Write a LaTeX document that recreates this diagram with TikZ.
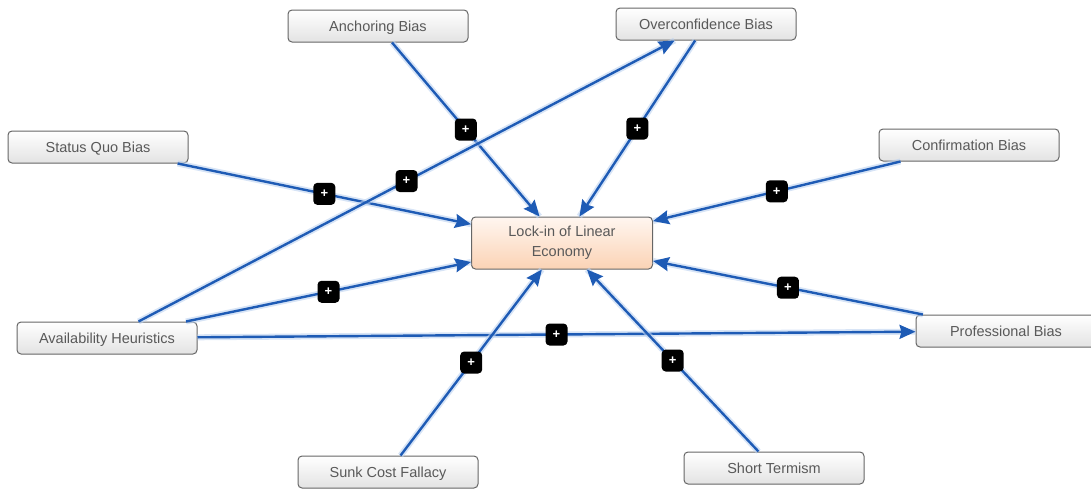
\documentclass[tikz,border=0pt]{standalone}
\usepackage{fontspec}
\setmainfont{Liberation Sans}
\usetikzlibrary{arrows.meta}
\definecolor{edgeblue}{HTML}{1E5BB5}
\definecolor{glowblue}{HTML}{BCD2F0}
\definecolor{boxline}{HTML}{666666}
\definecolor{boxtext}{HTML}{595959}
\definecolor{peachtop}{HTML}{FFF6F0}
\definecolor{peachbot}{HTML}{FBD3B5}
\tikzset{
  boxbase/.style={draw=boxline, line width=1pt, rounded corners=4pt,
    text=boxtext, inner sep=0pt,
    font=\fontsize{14.5}{20}\selectfont},
  factor/.style={boxbase, top color=white, bottom color=black!11,
    minimum width=180pt, minimum height=32pt,
    text height=11.5pt, text depth=0pt},
  core/.style={boxbase, top color=peachtop, bottom color=peachbot,
    minimum width=181pt, minimum height=52pt, align=center},
  link/.style={draw=edgeblue, line width=2.4pt,
    -{Stealth[length=16pt,width=14pt,inset=2pt]},
    preaction={draw=glowblue, line width=6pt, -, opacity=0.6}},
  plus/.style={fill=black, rounded corners=4pt, minimum size=22pt,
    inner sep=0pt, text=white, font=\bfseries\fontsize{13}{13}\selectfont}
}
\begin{document}
\begin{tikzpicture}[x=1pt, y=-1pt]
\useasboundingbox (0,0) rectangle (1091,488);

% causes and the central effect
\node[core]   (lock)  at (562,243) {Lock-in of Linear\\Economy};
\node[factor] (anch)  at (378,26)  {Anchoring Bias};
\node[factor] (over)  at (706,24)  {Overconfidence Bias};
\node[factor] (squo)  at (98,147)  {Status Quo Bias};
\node[factor] (conf)  at (969,145) {Confirmation Bias};
\node[factor] (avail) at (107,338) {Availability Heuristics};
\node[factor] (prof)  at (1006,331) {Professional Bias};
\node[factor] (sunk)  at (388,472) {Sunk Cost Fallacy};
\node[factor] (short) at (774,468) {Short Termism};

% reinforcing links
\draw[link] (anch)  -- node[plus] (p1) {+} (lock);
\draw[link] (over)  -- node[plus] (p2) {+} (lock);
\draw[link] (squo)  -- node[plus] (p3) {+} (lock);
\draw[link] (conf)  -- node[plus] (p4) {+} (lock);
\draw[link] (avail) -- node[plus] (p5) {+} (over);
\draw[link] (avail) -- node[plus] (p6) {+} (lock);
\draw[link] (avail) -- node[plus] (p7) {+} (prof);
\draw[link] (prof)  -- node[plus] (p8) {+} (lock);
\draw[link] (sunk)  -- node[plus] (p9) {+} (lock);
\draw[link] (short) -- node[plus] (p10) {+} (lock);
\end{tikzpicture}
\end{document}
